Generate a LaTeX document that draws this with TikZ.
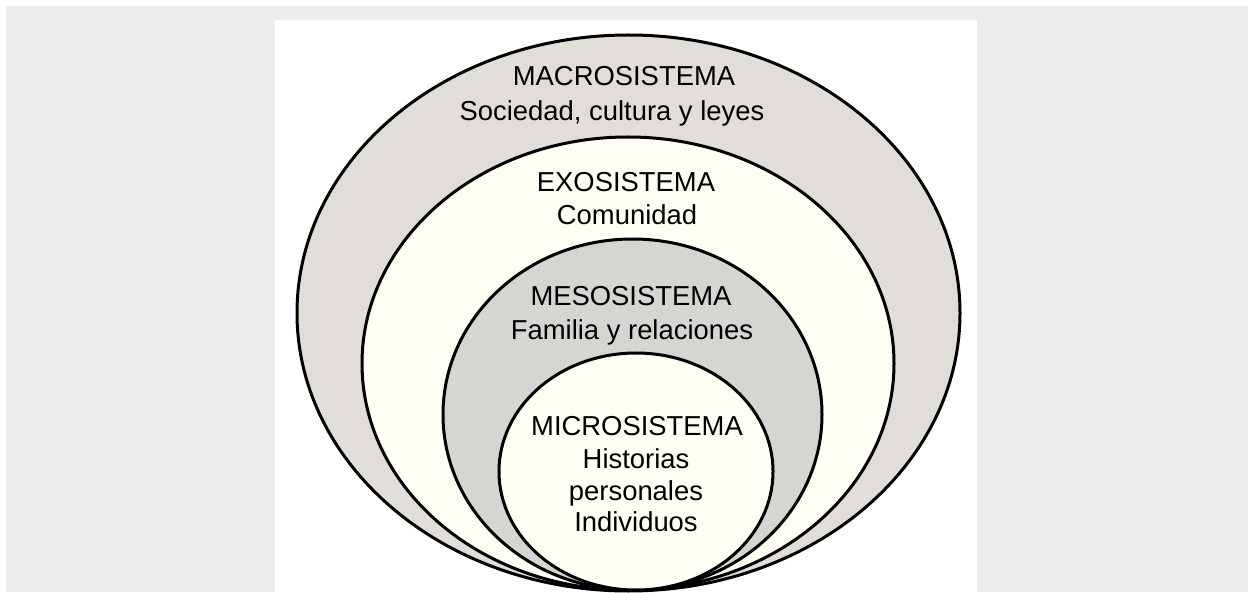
\documentclass[tikz,border=0pt]{standalone}
\usepackage{fontspec}
\setmainfont{Liberation Sans}
\definecolor{bggrey}{HTML}{EEEDEB}
\definecolor{ringA}{HTML}{E1DEDA}
\definecolor{ringB}{HTML}{D7D5D2}
\definecolor{cream}{HTML}{FFFFF3}
\begin{document}
\begin{tikzpicture}[x=0.5pt,y=-0.5pt,
  ring/.style={draw=black,line width=1.5pt},
  lbl/.style={anchor=base,inner sep=0pt,font=\fontsize{13.7pt}{16.6pt}\selectfont,text=black}]
\useasboundingbox (0,0) rectangle (1248,593);
\fill[white] (0,0) rectangle (1248,593);
\fill[bggrey] (6,6) rectangle (1248,592);
\fill[white] (275,20) rectangle (977,593);
% ellipses
\filldraw[ring,fill=ringA] (628.5,313) ellipse [x radius=331.5,y radius=278];
\filldraw[ring,fill=cream] (628,363.5) ellipse [x radius=266,y radius=226.5];
\filldraw[ring,fill=ringB] (632.5,414.5) ellipse [x radius=189.5,y radius=175.5];
\filldraw[ring,fill=cream] (636,471.5) ellipse [x radius=137,y radius=118.5];
% labels
\node[lbl] (macro) at (624,86) {MACROSISTEMA};
\node[lbl] (macrob) at (612,121) {Sociedad, cultura y leyes};
\node[lbl] (exo) at (626,192) {EXOSISTEMA};
\node[lbl] (exob) at (627,225) {Comunidad};
\node[lbl] (meso) at (631,306) {MESOSISTEMA};
\node[lbl] (mesob) at (632,340) {Familia y relaciones};
\node[lbl] (micro) at (637,435) {MICROSISTEMA};
\node[lbl] (microb) at (636,468) {Historias};
\node[lbl] (microc) at (636,500) {personales};
\node[lbl] (microd) at (636,531) {Individuos};
\end{tikzpicture}
\end{document}
